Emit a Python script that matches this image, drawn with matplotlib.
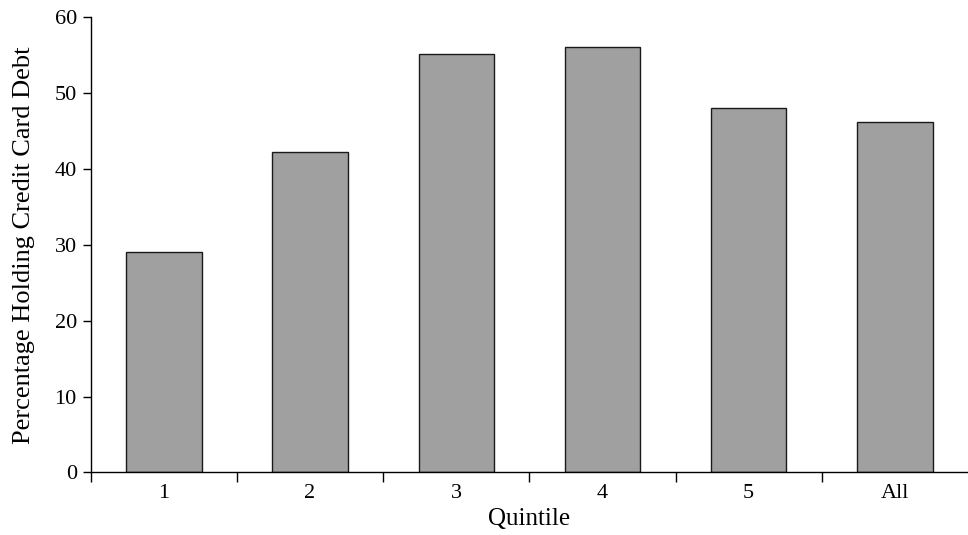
import matplotlib
matplotlib.use('Agg')
import numpy as np
import matplotlib.pyplot as plt

# Data
quintiles = ['1', '2', '3', '4', '5', 'All']
pct_credit_debt = [29.1, 42.3, 55.1, 56.1, 48.1, 46.2]

plt.rcParams['font.family'] = ['Liberation Serif', 'DejaVu Serif']

fig = plt.figure(figsize=(9.68, 5.35), dpi=100)
ax = fig.add_axes([0.0937, 0.117, 0.9063, 0.8507])

x = np.arange(len(quintiles))
ax.bar(x, pct_credit_debt, width=0.516, color='#a0a0a0', edgecolor='#1a1a1a', linewidth=1.0)

ax.set_xlim(-0.5, len(quintiles) - 0.5)
ax.set_ylim(0, 60)
ax.set_yticks(range(0, 61, 10))

# labels at bar centres, tick marks between categories
ax.set_xticks(x)
ax.set_xticklabels(quintiles)
ax.set_xticks(np.arange(-0.5, len(quintiles) - 0.5, 1.0), minor=True)
ax.tick_params(axis='x', which='major', length=0, pad=8, labelsize=16)
ax.tick_params(axis='x', which='minor', length=7, width=1, direction='out')
ax.tick_params(axis='y', length=6, width=1, labelsize=16, pad=4)

for side in ['top', 'right']:
    ax.spines[side].set_visible(False)
ax.spines['left'].set_linewidth(1)
ax.spines['bottom'].set_linewidth(1)

ax.set_xlabel('Quintile', fontsize=18, labelpad=4)
ax.set_ylabel('Percentage Holding Credit Card Debt', fontsize=19, labelpad=14)

fig.savefig('out.png', dpi=100)
